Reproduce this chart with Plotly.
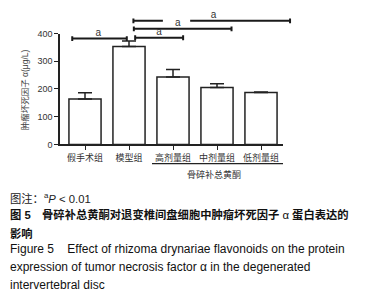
import plotly.graph_objects as go

# page body has a default 8px margin: build the figure to fit inside it
OFF = 8
PAGE_W, PAGE_H = 379, 303
W, H = PAGE_W - OFF, PAGE_H - OFF

# ---- data ----
groups = ["假手术组", "模型组", "高剂量组", "中剂量组", "低剂量组"]
values = [164, 353, 243, 205, 187]
errors = [22, 20, 27, 14, 2]
y_ticks = [0, 100, 200, 300, 400]
# significance brackets: (start index, end index, height)
br_start = [-0.29, 1.14, 1.11, 1.10]
br_end = [0.95, 2.23, 3.33, 4.66]
br_height = [382, 385, 417, 446]
br_label = ["a", "a", "a", "a"]
br_label_x = [0.30, 1.68, 2.11, 2.92]

FONT_CJK = "Liberation Sans, Noto Sans CJK SC"

def px_x(p):
    return (p - OFF) / W

def px_y(p):
    return 1 - (p - OFF) / H

# layout geometry (page pixels)
ax_left, ax_right = 60, 283
y0_px, y400_px = 144, 29.3
x_first = 85
unit_x = 44.0
xr0 = -(x_first - ax_left) / unit_x
xr1 = xr0 + (ax_right - ax_left) / unit_x
unit_y = (y0_px - y400_px) / 400.0

fig = go.Figure()
fig.add_trace(go.Bar(
    x=list(range(len(groups))), y=values, width=0.73,
    marker=dict(color="white", line=dict(color="#222222", width=1.5)),
    error_y=dict(type="data", array=errors, arrayminus=[0] * len(errors),
                 color="#222222", thickness=1.5, width=7),
    showlegend=False, xaxis="x", yaxis="y",
))

# brackets on an overlay subplot
bx, by = [], []
cap = 2.5 / unit_y
for i, (s, e, h) in enumerate(zip(br_start, br_end, br_height)):
    if i == 3:
        # broken where the label of the bracket below sits
        gap0, gap1 = 1.77, 2.39
        bx += [s, s, None, s, gap0, None, gap1, e, None, e, e, None]
        by += [h - cap, h + cap, None, h, h, None, h, h, None, h - cap, h + cap, None]
    else:
        bx += [s, s, None, s, e, None, e, e, None]
        by += [h - cap, h + cap, None, h, h, None, h - cap, h + cap, None]
fig.add_trace(go.Scatter(x=bx, y=by, mode="lines",
                         line=dict(color="#1a1a1a", width=2),
                         showlegend=False, xaxis="x2", yaxis="y2", hoverinfo="skip"))
fig.add_trace(go.Scatter(x=br_label_x, y=[h + 5.5 / unit_y for h in br_height],
                         mode="text", text=br_label,
                         textfont=dict(size=10, color="#333333", family="Liberation Sans"),
                         showlegend=False, xaxis="x2", yaxis="y2", cliponaxis=False,
                         hoverinfo="skip"))

top_px, bot_px = 9, 48
x2_right_px = 296
fig.update_layout(
    width=W, height=H, margin=dict(l=0, r=0, t=0, b=0),
    paper_bgcolor="white", plot_bgcolor="rgba(0,0,0,0)",
    xaxis=dict(domain=[px_x(ax_left), px_x(ax_right)], range=[xr0, xr1],
               tickvals=list(range(len(groups))), ticktext=groups,
               ticks="outside", ticklen=4, tickwidth=1.2, tickcolor="#222222",
               showline=True, linecolor="#222222", linewidth=1.5,
               showgrid=False, zeroline=False,
               tickfont=dict(size=9, color="#333333", family=FONT_CJK),
               anchor="y"),
    yaxis=dict(domain=[px_y(y0_px), px_y(y400_px)], range=[0, 400],
               tickvals=y_ticks, ticks="outside", ticklen=4, tickwidth=1.2,
               tickcolor="#222222", showline=True, linecolor="#222222", linewidth=1.5,
               showgrid=False, zeroline=False,
               tickfont=dict(size=9, color="#333333", family="Liberation Sans"),
               anchor="x"),
    xaxis2=dict(domain=[px_x(ax_left), px_x(x2_right_px)],
                range=[xr0, xr0 + (x2_right_px - ax_left) / unit_x],
                visible=False, anchor="y2"),
    yaxis2=dict(domain=[px_y(bot_px), px_y(top_px)],
                range=[(y0_px - bot_px) / unit_y, (y0_px - top_px) / unit_y],
                visible=False, anchor="x2"),
)

# group underline + label
fig.add_shape(type="line", xref="paper", yref="paper",
              x0=px_x(152), x1=px_x(283), y0=px_y(164), y1=px_y(164),
              line=dict(color="#222222", width=1.2))

annos = [
    dict(text="骨碎补总黄酮", x=px_x(214), y=px_y(175), xanchor="center", yanchor="middle",
         font=dict(size=9, color="#333333", family=FONT_CJK)),
    dict(text="肿瘤坏死因子 α(μg/L)", x=px_x(25), y=px_y(88), xanchor="center",
         yanchor="middle", textangle=-90,
         font=dict(size=8.5, color="#444444", family=FONT_CJK)),
    dict(text="图注：<sup>a</sup><i>P</i> < 0.01", x=px_x(8), y=px_y(199),
         xanchor="left", yanchor="middle",
         font=dict(size=11.3, color="#222222", family=FONT_CJK)),
    dict(text="<b>图 5</b>　<b>骨碎补总黄酮对退变椎间盘细胞中肿瘤坏死因子</b> α <b>蛋白表达的</b>",
         x=px_x(8), y=px_y(217), xanchor="left", yanchor="middle",
         font=dict(size=11.3, color="#111111", family=FONT_CJK)),
    dict(text="<b>影响</b>", x=px_x(8), y=px_y(236), xanchor="left", yanchor="middle",
         font=dict(size=11.3, color="#111111", family=FONT_CJK)),
    dict(text="Figure 5    Effect of rhizoma drynariae flavonoids on the protein",
         x=px_x(8), y=px_y(252), xanchor="left", yanchor="middle",
         font=dict(size=12, color="#111111", family="Liberation Sans")),
    dict(text="expression of tumor necrosis factor α in the degenerated",
         x=px_x(8), y=px_y(271), xanchor="left", yanchor="middle",
         font=dict(size=12, color="#111111", family="Liberation Sans")),
    dict(text="intervertebral disc",
         x=px_x(8), y=px_y(290), xanchor="left", yanchor="middle",
         font=dict(size=12, color="#111111", family="Liberation Sans")),
]
for a in annos:
    fig.add_annotation(xref="paper", yref="paper", showarrow=False, **a)

fig.write_html("out.html", config={"displayModeBar": False})
